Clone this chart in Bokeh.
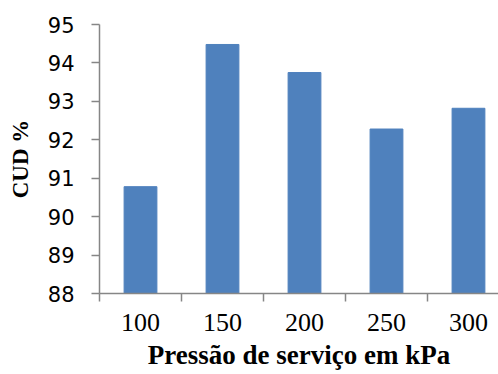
from bokeh.plotting import figure
from bokeh.models import FixedTicker, Range1d
from bokeh.embed import file_html
from bokeh.resources import INLINE

categories = ["100", "150", "200", "250", "300"]
cud = [90.78, 94.48, 93.75, 92.28, 92.82]
y_ticks = [88, 89, 90, 91, 92, 93, 94, 95]

xs = [i + 0.5 for i in range(len(categories))]

p = figure(width=498, height=374, output_backend="svg", toolbar_location=None,
           x_range=Range1d(0, 4.866), y_range=Range1d(88, 95),
           min_border_left=99, min_border_top=24, min_border_right=0, min_border_bottom=81)

p.vbar(x=xs, top=cud, bottom=88, width=0.4, fill_color="#4F81BD", line_color="#4F81BD")

axis_col = "#868686"
p.outline_line_color = None
p.xgrid.grid_line_color = None
p.ygrid.grid_line_color = None
p.background_fill_color = "white"
p.border_fill_color = "white"

xa = p.xaxis[0]
xa.ticker = FixedTicker(ticks=xs, minor_ticks=[0, 1, 2, 3, 4, 5])
xa.major_label_overrides = {x: c for x, c in zip(xs, categories)}
xa.major_tick_line_color = None
xa.major_tick_out = 8
xa.major_tick_in = 0
xa.minor_tick_line_color = axis_col
xa.minor_tick_line_width = 1.5
xa.minor_tick_out = 8
xa.minor_tick_in = 0
xa.axis_line_color = axis_col
xa.axis_line_width = 1.5
xa.major_label_text_font = "Liberation Serif"
xa.major_label_text_font_size = "26px"
xa.major_label_text_color = "black"
xa.major_label_standoff = 12
xa.axis_label = "Pressão de serviço em kPa"
xa.axis_label_text_font = "Liberation Serif"
xa.axis_label_text_font_style = "bold"
xa.axis_label_text_font_size = "27px"
xa.axis_label_text_color = "black"
xa.axis_label_standoff = 6

ya = p.yaxis[0]
ya.ticker = FixedTicker(ticks=y_ticks)
ya.major_tick_line_color = axis_col
ya.major_tick_line_width = 1.5
ya.major_tick_out = 8
ya.major_tick_in = 0
ya.minor_tick_line_color = None
ya.axis_line_color = axis_col
ya.axis_line_width = 1.5
ya.major_label_text_font = "DejaVu Sans"
ya.major_label_text_font_size = "21px"
ya.major_label_text_color = "black"
ya.major_label_standoff = 17
ya.axis_label = "CUD %"
ya.axis_label_text_font = "Liberation Serif"
ya.axis_label_text_font_style = "bold"
ya.axis_label_text_font_size = "23px"
ya.axis_label_text_color = "black"
ya.axis_label_standoff = 12

open("out.html", "w").write(file_html(p, INLINE))
